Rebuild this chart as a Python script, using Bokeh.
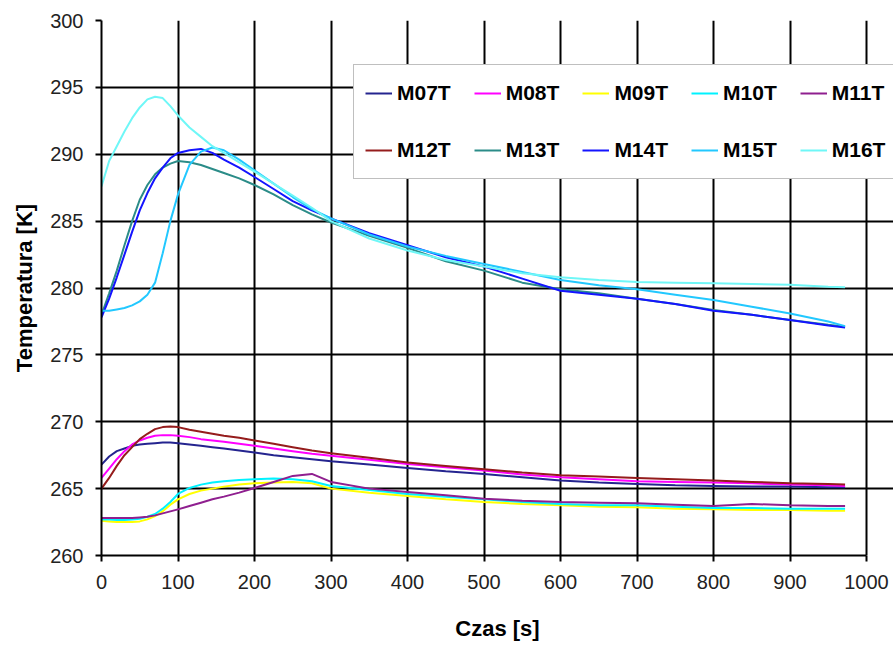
from bokeh.plotting import figure
from bokeh.models import Range1d, Legend, LegendItem, SingleIntervalTicker, ColumnDataSource
from bokeh.embed import file_html
from bokeh.resources import INLINE

# ---- data ----
t = [0, 10, 20, 30, 40, 50, 60, 70, 80, 90, 100, 115, 130, 145, 160, 180, 200, 225, 250, 275,
     300, 350, 400, 450, 500, 550, 600, 650, 700, 750, 800, 850, 900, 950, 972]

M07T = [266.8, 267.4, 267.8, 268.0, 268.2, 268.3, 268.35, 268.4, 268.45, 268.45, 268.4, 268.3, 268.2, 268.1, 268.0, 267.85, 267.7, 267.5, 267.35, 267.2,
        267.05, 266.8, 266.55, 266.3, 266.1, 265.85, 265.6, 265.45, 265.35, 265.25, 265.2, 265.15, 265.15, 265.1, 265.1]
M08T = [265.8, 266.5, 267.2, 267.8, 268.3, 268.6, 268.8, 268.95, 269.0, 269.0, 268.95, 268.85, 268.7, 268.6, 268.5, 268.35, 268.2, 268.0, 267.8, 267.6,
        267.45, 267.15, 266.85, 266.6, 266.35, 266.05, 265.85, 265.7, 265.55, 265.5, 265.45, 265.4, 265.3, 265.25, 265.2]
M09T = [262.6, 262.55, 262.5, 262.5, 262.5, 262.55, 262.7, 262.95, 263.3, 263.8, 264.2, 264.6, 264.85, 265.0, 265.15, 265.3, 265.4, 265.45, 265.5, 265.4,
        265.0, 264.7, 264.45, 264.2, 264.0, 263.85, 263.75, 263.65, 263.6, 263.5, 263.45, 263.4, 263.4, 263.35, 263.35]
M10T = [262.7, 262.7, 262.65, 262.65, 262.7, 262.75, 262.9, 263.1, 263.5, 264.0, 264.6, 265.05, 265.3, 265.45, 265.55, 265.65, 265.7, 265.75, 265.7, 265.55,
        265.2, 264.9, 264.6, 264.4, 264.2, 264.0, 263.85, 263.75, 263.75, 263.65, 263.55, 263.55, 263.5, 263.5, 263.5]
M11T = [262.8, 262.8, 262.8, 262.8, 262.8, 262.85, 262.9, 263.0, 263.15, 263.3, 263.45, 263.7, 263.95, 264.2, 264.4, 264.7, 265.05, 265.5, 265.95, 266.1,
        265.5, 265.0, 264.75, 264.5, 264.25, 264.1, 264.0, 263.95, 263.9, 263.8, 263.7, 263.85, 263.75, 263.7, 263.7]
M12T = [265.0, 265.8, 266.7, 267.5, 268.1, 268.7, 269.1, 269.45, 269.6, 269.65, 269.6, 269.4, 269.25, 269.1, 268.95, 268.8, 268.6, 268.35, 268.1, 267.85,
        267.65, 267.3, 266.95, 266.7, 266.45, 266.2, 266.0, 265.9, 265.8, 265.7, 265.6, 265.5, 265.4, 265.35, 265.3]
M13T = [278.0, 279.6, 281.3, 283.2, 285.0, 286.6, 287.7, 288.5, 289.0, 289.3, 289.5, 289.4, 289.2, 288.9, 288.6, 288.2, 287.7, 287.0, 286.2, 285.5,
        284.9, 283.9, 283.0, 282.0, 281.3, 280.4, 279.9, 279.6, 279.2, 278.8, 278.35, 278.0, 277.6, 277.25, 277.1]
M14T = [277.8, 279.2, 280.8, 282.5, 284.2, 285.8, 287.1, 288.2, 289.0, 289.7, 290.1, 290.3, 290.4, 290.1, 289.6, 289.0, 288.3, 287.4, 286.5, 285.8,
        285.2, 284.1, 283.2, 282.3, 281.6, 280.7, 279.8, 279.5, 279.2, 278.8, 278.3, 278.0, 277.6, 277.2, 277.05]
M15T = [278.3, 278.3, 278.4, 278.5, 278.7, 279.0, 279.5, 280.4, 282.6, 285.0, 287.0, 289.2, 290.2, 290.5, 290.3, 289.6, 288.8, 287.8, 286.8, 285.9,
        285.2, 284.0, 283.1, 282.4, 281.8, 281.2, 280.6, 280.2, 279.9, 279.5, 279.1, 278.6, 278.1, 277.5, 277.15]
M16T = [287.6, 289.5, 290.6, 291.7, 292.7, 293.5, 294.1, 294.3, 294.2, 293.6, 292.9, 292.0, 291.3, 290.6, 290.1, 289.4, 288.7, 287.8, 286.9, 286.0,
        285.0, 283.7, 282.8, 282.1, 281.6, 281.1, 280.8, 280.6, 280.45, 280.4, 280.35, 280.3, 280.25, 280.1, 280.05]

names = ["M07T", "M08T", "M09T", "M10T", "M11T", "M12T", "M13T", "M14T", "M15T", "M16T"]
series = [M07T, M08T, M09T, M10T, M11T, M12T, M13T, M14T, M15T, M16T]
colors = ["#24248f", "#ff00ff", "#ffff00", "#00f2ff", "#8f1f8f",
          "#951c1c", "#2b8c88", "#1414ff", "#22c8ff", "#6ff7f7"]

x_ticks_step = 100
y_ticks_step = 5
x_min, x_max = 0, 1000
y_min, y_max = 260, 300

FONT = "Liberation Sans"

# frame extends a little past x=1000 so the legend can overhang like in the reference
frame_left, frame_right_1000, fig_w = 101, 866, 893
x_end = x_max * (fig_w - frame_left) / (frame_right_1000 - frame_left)

p = figure(width=fig_w, height=647, output_backend="svg", toolbar_location=None,
           x_range=Range1d(x_min, x_end), y_range=Range1d(y_min, y_max),
           min_border_left=frame_left, min_border_right=0, min_border_top=20, min_border_bottom=92)
p.background_fill_color = "white"
p.border_fill_color = "white"
p.outline_line_color = None

p.xaxis.ticker = SingleIntervalTicker(interval=x_ticks_step)
p.yaxis.ticker = SingleIntervalTicker(interval=y_ticks_step)
p.xaxis.bounds = (x_min, x_max)
p.ygrid.bounds = (x_min, x_max)
p.xaxis.minor_tick_line_color = None
p.yaxis.minor_tick_line_color = None
for ax in (p.xaxis, p.yaxis):
    ax.axis_line_color = "black"
    ax.axis_line_width = 2
    ax.major_tick_line_color = "black"
    ax.major_tick_line_width = 2
    ax.major_tick_out = 6
    ax.major_tick_in = 0
    ax.major_label_text_font = FONT
    ax.major_label_text_font_size = "20px"
    ax.major_label_text_color = "#222222"
    ax.axis_label_text_font = FONT
    ax.axis_label_text_font_size = "22px"
    ax.axis_label_text_font_style = "bold"
    ax.axis_label_text_color = "black"

p.xaxis.axis_label = "Czas [s]"
p.yaxis.axis_label = "Temperatura [K]"
p.xaxis.major_label_standoff = 13
p.xaxis.axis_label_standoff = 24
p.yaxis.major_label_standoff = 12
p.yaxis.axis_label_standoff = 10

p.grid.grid_line_color = "black"
p.grid.grid_line_width = 2
p.grid.grid_line_alpha = 1.0

items = []
for name, vals, c in zip(names, series, colors):
    src = ColumnDataSource(data=dict(t=t, v=vals))
    r = p.line("t", "v", source=src, line_color=c, line_width=2)
    items.append(LegendItem(label=name, renderers=[r]))

legend = Legend(items=items, location=(252, 376), orientation="horizontal", ncols=5,
                label_text_font=FONT, label_text_font_size="21px", label_text_font_style="bold",
                label_text_color="black", glyph_width=27, glyph_height=34, label_height=34,
                label_standoff=5, spacing=23, padding=11, margin=0,
                border_line_color="#808080", border_line_width=1.5,
                background_fill_color="white", background_fill_alpha=1.0)
p.add_layout(legend, "center")

open("out.html", "w").write(file_html(p, INLINE))
